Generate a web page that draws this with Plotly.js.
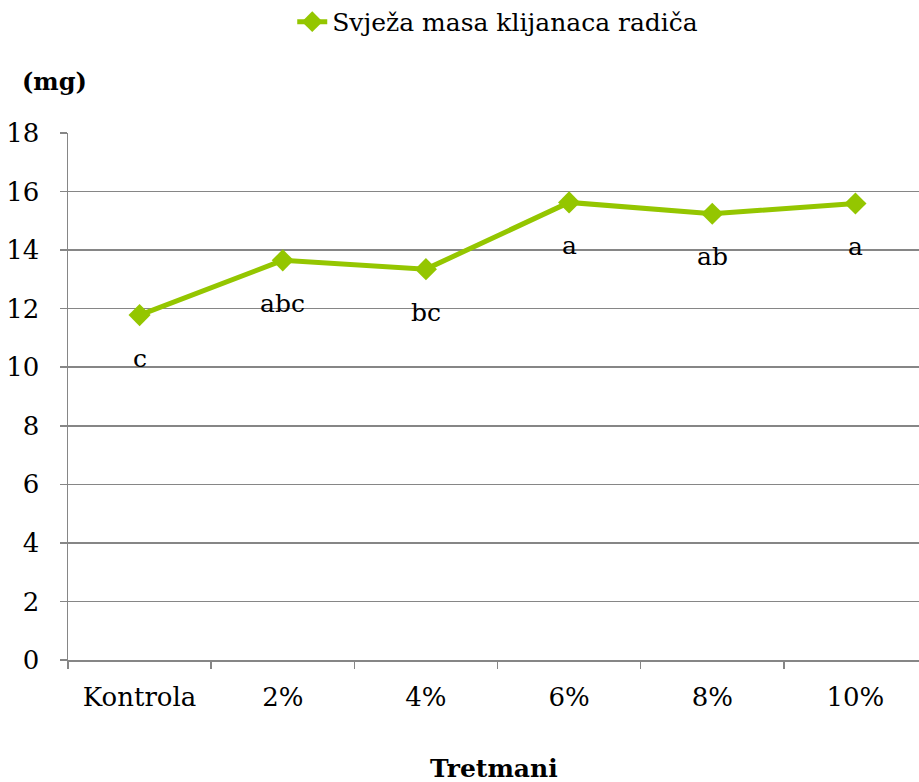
<!DOCTYPE html>
<html>
<head>
<meta charset="utf-8">
<script src="https://cdn.plot.ly/plotly-3.0.1.min.js"></script>
<style>html,body{margin:0;padding:0;background:#fff;}#chart{width:919px;height:782px;}</style>
</head>
<body>
<div id="chart"></div>
<script>
const categories = ["Kontrola", "2%", "4%", "6%", "8%", "10%"];
const freshMass = [11.78, 13.65, 13.35, 15.63, 15.24, 15.59];
const letters = ["c", "abc", "bc", "a", "ab", "a"];
const seriesName = "Svježa masa klijanaca radiča";

const green = "#94C600";
const grey = "#868686";
const font = "DejaVu Serif";

const trace = {
  x: categories,
  y: freshMass,
  type: "scatter",
  mode: "lines+markers",
  name: seriesName,
  line: {color: green, width: 5},
  marker: {symbol: "diamond", size: 17, color: green}
};

const annotations = categories.map((c, i) => ({
  x: c, y: freshMass[i], xref: "x", yref: "y",
  text: letters[i], showarrow: false, yshift: -43,
  font: {family: font, size: 25, color: "#000"}
}));
annotations.push({
  xref: "paper", yref: "paper", x: -0.056, y: 1.097, xanchor: "left", yanchor: "middle",
  text: "<b>(mg)</b>", showarrow: false, font: {family: font, size: 24, color: "#000"}
});
annotations.push({
  xref: "paper", yref: "paper", x: 0.5, y: -0.205, xanchor: "center", yanchor: "middle",
  text: "<b>Tretmani</b>", showarrow: false, font: {family: font, size: 25, color: "#000"}
});

const layout = {
  width: 919, height: 782,
  margin: {l: 68, r: 0, t: 133, b: 122},
  paper_bgcolor: "#fff", plot_bgcolor: "#fff",
  font: {family: font, size: 25, color: "#000"},
  showlegend: true,
  legend: {
    orientation: "h", xref: "container", yref: "container",
    x: 0.318, xanchor: "left", y: 0.972, yanchor: "middle",
    font: {family: font, size: 25, color: "#000"}
  },
  xaxis: {
    type: "category",
    range: [-0.5, 5.444],
    tickson: "boundaries",
    ticks: "outside", ticklen: 7, tickcolor: grey, tickwidth: 1.5,
    showline: true, linecolor: grey, linewidth: 1.5,
    showgrid: false, zeroline: false,
    ticklabelstandoff: 13,
    tickfont: {family: font, size: 26, color: "#000"}
  },
  yaxis: {
    range: [0, 18], dtick: 2,
    ticks: "outside", ticklen: 7, tickcolor: grey, tickwidth: 1.5,
    showline: true, linecolor: grey, linewidth: 1.5,
    showgrid: true, gridcolor: grey, gridwidth: 1.5,
    zeroline: false,
    ticklabelstandoff: 15,
    tickfont: {family: font, size: 26, color: "#000"}
  },
  annotations: annotations
};

Plotly.newPlot("chart", [trace], layout, {displayModeBar: false, staticPlot: true});
</script>
</body>
</html>
